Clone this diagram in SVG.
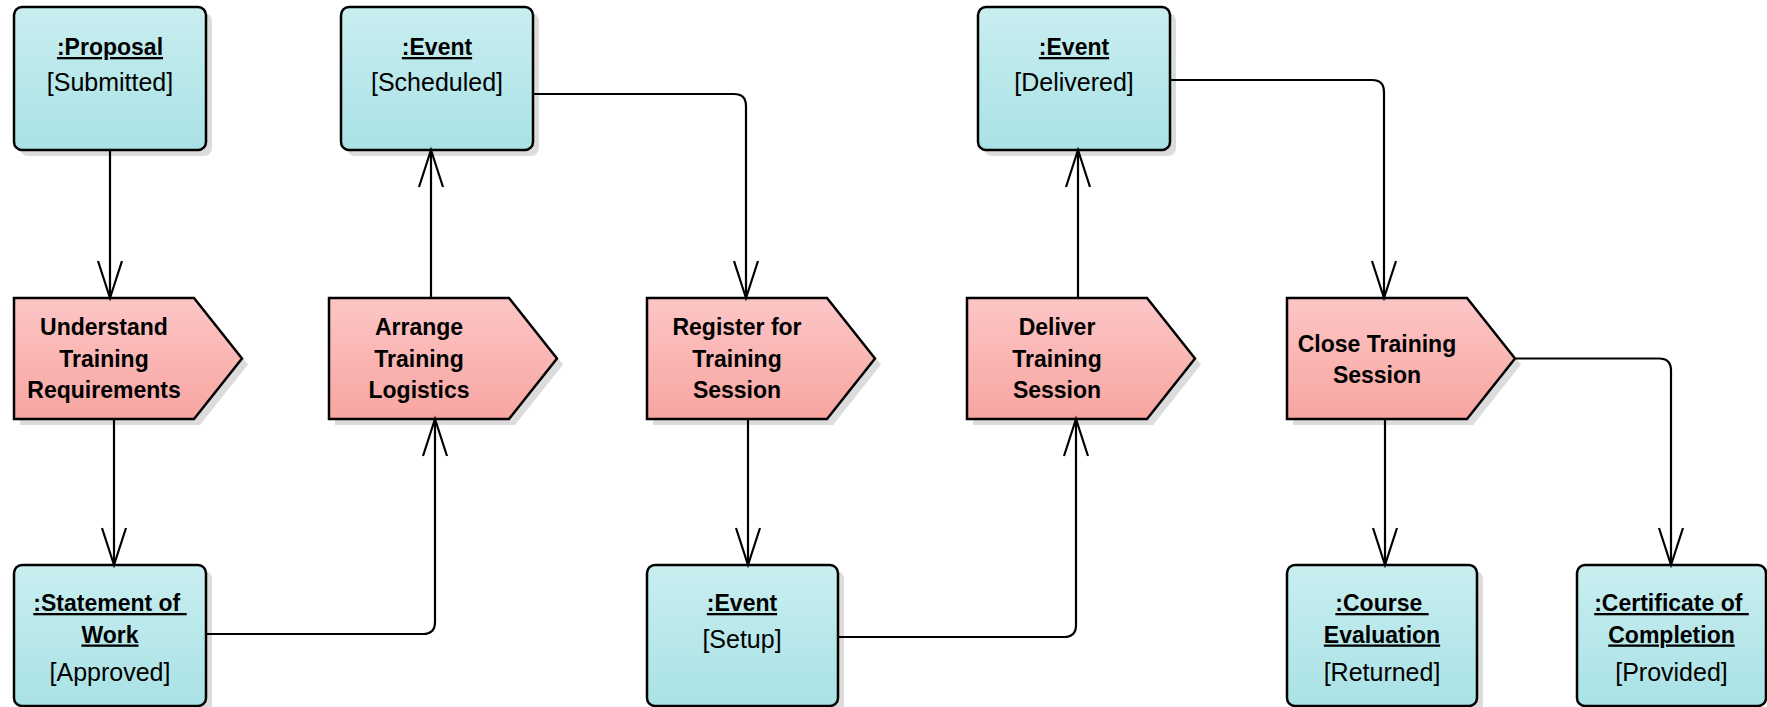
<svg xmlns="http://www.w3.org/2000/svg" width="1767" height="707" viewBox="0 0 1767 707">
<defs>
<linearGradient id="gObj" x1="0" y1="0" x2="0" y2="1">
<stop offset="0" stop-color="#c9eef0"/>
<stop offset="1" stop-color="#a9e2e5"/>
</linearGradient>
<linearGradient id="gAct" x1="0" y1="0" x2="0" y2="1">
<stop offset="0" stop-color="#fcc6c6"/>
<stop offset="1" stop-color="#f8a5a1"/>
</linearGradient>
<marker id="arr" viewBox="-40 -15 44 30" refX="0" refY="0" markerWidth="44" markerHeight="30" markerUnits="userSpaceOnUse" orient="auto">
<path d="M-37,-12 L0,0 L-37,12" fill="none" stroke="#000" stroke-width="2.2"/>
</marker>
</defs>
<style>
.box{fill:url(#gObj);stroke:#000;stroke-width:2.5}
.act{fill:url(#gAct);stroke:#000;stroke-width:2.5;stroke-linejoin:miter}
.sh{fill:#dcdcdc}
.b{font-family:"Liberation Sans",Arial,sans-serif;font-weight:bold;font-size:23px;text-anchor:middle;fill:#000}
.u{text-decoration:underline;white-space:pre}
.r{font-family:"Liberation Sans",Arial,sans-serif;font-size:25px;text-anchor:middle;fill:#000}
.c{fill:none;stroke:#000;stroke-width:2.2;marker-end:url(#arr)}
</style>
<rect width="1767" height="707" fill="#fff"/>

<g id="proposal">
<rect class="sh" x="20" y="13" width="192" height="143" rx="8"/>
<rect class="box" x="14" y="7" width="192" height="143" rx="8"/>
<text class="b u" x="110" y="55">:Proposal</text>
<text class="r" x="110" y="91">[Submitted]</text>
</g>

<g id="event-scheduled">
<rect class="sh" x="347" y="13" width="192" height="143" rx="8"/>
<rect class="box" x="341" y="7" width="192" height="143" rx="8"/>
<text class="b u" x="437" y="55">:Event</text>
<text class="r" x="437" y="91">[Scheduled]</text>
</g>

<g id="event-delivered">
<rect class="sh" x="984" y="13" width="192" height="143" rx="8"/>
<rect class="box" x="978" y="7" width="192" height="143" rx="8"/>
<text class="b u" x="1074" y="55">:Event</text>
<text class="r" x="1074" y="91">[Delivered]</text>
</g>

<g id="understand">
<path class="sh" d="M20,304 H200 L248,364.5 L200,425 H20 Z"/>
<path class="act" d="M14,298 H194 L242,358.5 L194,419 H14 Z"/>
<text class="b" x="104" y="335">Understand</text>
<text class="b" x="104" y="366.5">Training</text>
<text class="b" x="104" y="398">Requirements</text>
</g>

<g id="arrange">
<path class="sh" d="M335,304 H515 L563,364.5 L515,425 H335 Z"/>
<path class="act" d="M329,298 H509 L557,358.5 L509,419 H329 Z"/>
<text class="b" x="419" y="335">Arrange</text>
<text class="b" x="419" y="366.5">Training</text>
<text class="b" x="419" y="398">Logistics</text>
</g>

<g id="register">
<path class="sh" d="M653,304 H833 L881,364.5 L833,425 H653 Z"/>
<path class="act" d="M647,298 H827 L875,358.5 L827,419 H647 Z"/>
<text class="b" x="737" y="335">Register for</text>
<text class="b" x="737" y="366.5">Training</text>
<text class="b" x="737" y="398">Session</text>
</g>

<g id="deliver">
<path class="sh" d="M973,304 H1153 L1201,364.5 L1153,425 H973 Z"/>
<path class="act" d="M967,298 H1147 L1195,358.5 L1147,419 H967 Z"/>
<text class="b" x="1057" y="335">Deliver</text>
<text class="b" x="1057" y="366.5">Training</text>
<text class="b" x="1057" y="398">Session</text>
</g>

<g id="close">
<path class="sh" d="M1293,304 H1473 L1521,364.5 L1473,425 H1293 Z"/>
<path class="act" d="M1287,298 H1467 L1515,358.5 L1467,419 H1287 Z"/>
<text class="b" x="1377" y="352">Close Training</text>
<text class="b" x="1377" y="383">Session</text>
</g>

<g id="statement">
<rect class="sh" x="20" y="571" width="192" height="143" rx="8"/>
<rect class="box" x="14" y="565" width="192" height="141" rx="8"/>
<text class="b u" x="110" y="611">:Statement of </text>
<text class="b u" x="110" y="642.5">Work</text>
<text class="r" x="110" y="681">[Approved]</text>
</g>

<g id="event-setup">
<rect class="sh" x="653" y="571" width="191" height="143" rx="8"/>
<rect class="box" x="647" y="565" width="191" height="141" rx="8"/>
<text class="b u" x="742" y="611">:Event</text>
<text class="r" x="742" y="648">[Setup]</text>
</g>

<g id="course-evaluation">
<rect class="sh" x="1293" y="571" width="190" height="143" rx="8"/>
<rect class="box" x="1287" y="565" width="190" height="141" rx="8"/>
<text class="b u" x="1382" y="611">:Course </text>
<text class="b u" x="1382" y="642.5">Evaluation</text>
<text class="r" x="1382" y="681">[Returned]</text>
</g>

<g id="certificate">
<rect class="box" x="1577" y="565" width="189" height="141" rx="8"/>
<text class="b u" x="1671.5" y="611">:Certificate of </text>
<text class="b u" x="1671.5" y="642.5">Completion</text>
<text class="r" x="1671.5" y="681">[Provided]</text>
</g>

<g id="connectors">
<path class="c" d="M110,150 V298"/>
<path class="c" d="M114,419 V565"/>
<path class="c" d="M206,634 H423 Q435,634 435,622 V419"/>
<path class="c" d="M431,298 V150"/>
<path class="c" d="M533,94 H734 Q746,94 746,106 V298"/>
<path class="c" d="M748,419 V565"/>
<path class="c" d="M838,637 H1064 Q1076,637 1076,625 V419"/>
<path class="c" d="M1078,298 V150"/>
<path class="c" d="M1170,80 H1372 Q1384,80 1384,92 V298"/>
<path class="c" d="M1385,419 V565"/>
<path class="c" d="M1516,358.5 H1659 Q1671,358.5 1671,370.5 V565"/>
</g>
</svg>
